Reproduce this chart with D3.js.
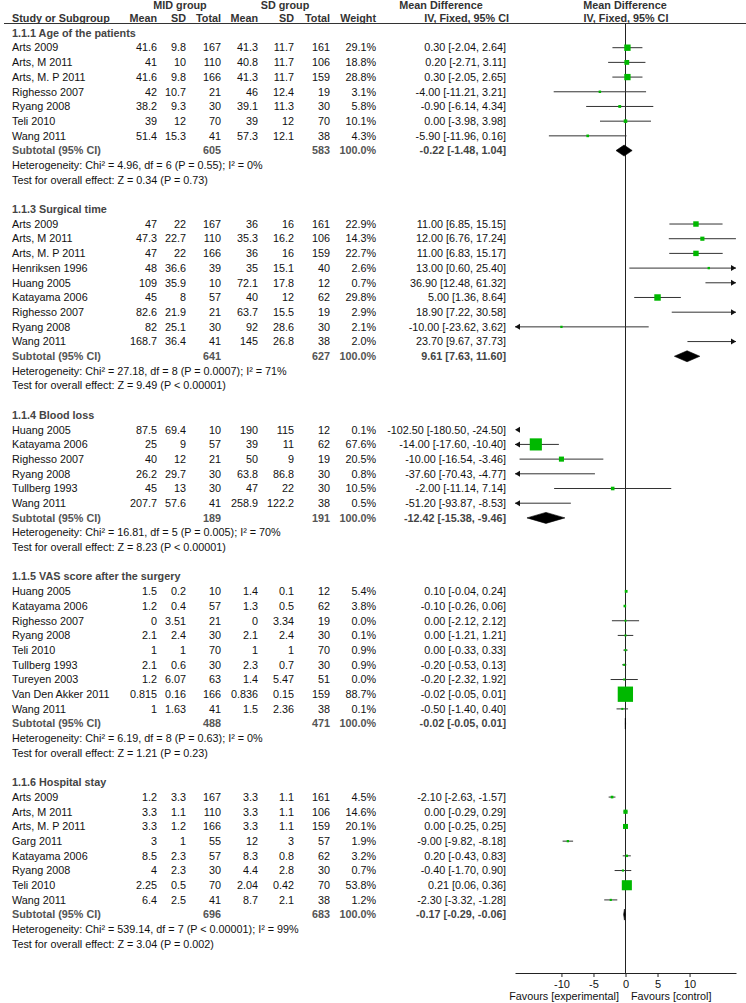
<!DOCTYPE html>
<html><head><meta charset="utf-8">
<script src="https://cdn.jsdelivr.net/npm/d3@7/dist/d3.min.js"></script>
<style>
body{margin:0;background:#fff}
svg{display:block}
text{font-family:"Liberation Sans",Arial,sans-serif;font-size:10.8px;fill:#111}
</style>
</head><body>
<svg id="chart" width="746" height="1003"></svg>
<script>
// ---------------- DATA ----------------
const sectionTitles = ["1.1.1 Age of the patients","1.1.3 Surgical time","1.1.4 Blood loss","1.1.5 VAS score after the surgery","1.1.6 Hospital stay"];
const groupHeaders = ["MID group","SD group"];
const columnHeaders = ["Mean","SD","Total","Mean","SD","Total","Weight"];
const studyNames = [
 "Arts 2009","Arts, M 2011","Arts, M. P 2011","Righesso 2007","Ryang 2008","Teli 2010","Wang 2011",
 "Arts 2009","Arts, M 2011","Arts, M. P 2011","Henriksen 1996","Huang 2005","Katayama 2006","Righesso 2007","Ryang 2008","Wang 2011",
 "Huang 2005","Katayama 2006","Righesso 2007","Ryang 2008","Tullberg 1993","Wang 2011",
 "Huang 2005","Katayama 2006","Righesso 2007","Ryang 2008","Teli 2010","Tullberg 1993","Tureyen 2003","Van Den Akker 2011","Wang 2011",
 "Arts 2009","Arts, M 2011","Arts, M. P 2011","Garg 2011","Katayama 2006","Ryang 2008","Teli 2010","Wang 2011"];
const studySection = [0,0,0,0,0,0,0, 1,1,1,1,1,1,1,1,1, 2,2,2,2,2,2, 3,3,3,3,3,3,3,3,3, 4,4,4,4,4,4,4,4];
const midMean = [41.6,41,41.6,42,38.2,39,51.4, 47,47.3,47,48,109,45,82.6,82,168.7, 87.5,25,40,26.2,45,207.7, 1.5,1.2,0,2.1,1,2.1,1.2,0.815,1, 1.2,3.3,3.3,3,8.5,4,2.25,6.4];
const midSD   = [9.8,10,9.8,10.7,9.3,12,15.3, 22,22.7,22,36.6,35.9,8,21.9,25.1,36.4, 69.4,9,12,29.7,13,57.6, 0.2,0.4,3.51,2.4,1,0.6,6.07,0.16,1.63, 3.3,1.1,1.2,1,2.3,2.3,0.5,2.5];
const midN    = [167,110,166,21,30,70,41, 167,110,166,39,10,57,21,30,41, 10,57,21,30,30,41, 10,57,21,30,70,30,63,166,41, 167,110,166,55,57,30,70,41];
const sdMean  = [41.3,40.8,41.3,46,39.1,39,57.3, 36,35.3,36,35,72.1,40,63.7,92,145, 190,39,50,63.8,47,258.9, 1.4,1.3,0,2.1,1,2.3,1.4,0.836,1.5, 3.3,3.3,3.3,12,8.3,4.4,2.04,8.7];
const sdSD    = [11.7,11.7,11.7,12.4,11.3,12,12.1, 16,16.2,16,15.1,17.8,12,15.5,28.6,26.8, 115,11,9,86.8,22,122.2, 0.1,0.5,3.34,2.4,1,0.7,5.47,0.15,2.36, 1.1,1.1,1.1,3,0.8,2.8,0.42,2.1];
const sdN     = [161,106,159,19,30,70,38, 161,106,159,40,12,62,19,30,38, 12,62,19,30,30,38, 12,62,19,30,70,30,51,159,38, 161,106,159,57,62,30,70,38];
const weights = [29.1,18.8,28.8,3.1,5.8,10.1,4.3, 22.9,14.3,22.7,2.6,0.7,29.8,2.9,2.1,2.0, 0.1,67.6,20.5,0.8,10.5,0.5, 5.4,3.8,0.0,0.1,0.9,0.9,0.0,88.7,0.1, 4.5,14.6,20.1,1.9,3.2,0.7,53.8,1.2];
const meanDiff = [0.30,0.20,0.30,-4.00,-0.90,0.00,-5.90, 11.00,12.00,11.00,13.00,36.90,5.00,18.90,-10.00,23.70, -102.50,-14.00,-10.00,-37.60,-2.00,-51.20, 0.10,-0.10,0.00,0.00,0.00,-0.20,-0.20,-0.02,-0.50, -2.10,0.00,0.00,-9.00,0.20,-0.40,0.21,-2.30];
const ciLow   = [-2.04,-2.71,-2.05,-11.21,-6.14,-3.98,-11.96, 6.85,6.76,6.83,0.60,12.48,1.36,7.22,-23.62,9.67, -180.50,-17.60,-16.54,-70.43,-11.14,-93.87, -0.04,-0.26,-2.12,-1.21,-0.33,-0.53,-2.32,-0.05,-1.40, -2.63,-0.29,-0.25,-9.82,-0.43,-1.70,0.06,-3.32];
const ciHigh  = [2.64,3.11,2.65,3.21,4.34,3.98,0.16, 15.15,17.24,15.17,25.40,61.32,8.64,30.58,3.62,37.73, -24.50,-10.40,-3.46,-4.77,7.14,-8.53, 0.24,0.06,2.12,1.21,0.33,0.13,1.92,0.01,0.40, -1.57,0.29,0.25,-8.18,0.83,0.90,0.36,-1.28];
const subMidN  = [605,641,189,488,696];
const subSdN   = [583,627,191,471,683];
const subMD    = [-0.22,9.61,-12.42,-0.02,-0.17];
const subLow   = [-1.48,7.63,-15.38,-0.05,-0.29];
const subHigh  = [1.04,11.60,-9.46,0.01,-0.06];
const heterogeneity = [
 "Heterogeneity: Chi² = 4.96, df = 6 (P = 0.55); I² = 0%",
 "Heterogeneity: Chi² = 27.18, df = 8 (P = 0.0007); I² = 71%",
 "Heterogeneity: Chi² = 16.81, df = 5 (P = 0.005); I² = 70%",
 "Heterogeneity: Chi² = 6.19, df = 8 (P = 0.63); I² = 0%",
 "Heterogeneity: Chi² = 539.14, df = 7 (P < 0.00001); I² = 99%"];
const overallEffect = [
 "Test for overall effect: Z = 0.34 (P = 0.73)",
 "Test for overall effect: Z = 9.49 (P < 0.00001)",
 "Test for overall effect: Z = 8.23 (P < 0.00001)",
 "Test for overall effect: Z = 1.21 (P = 0.23)",
 "Test for overall effect: Z = 3.04 (P = 0.002)"];
const axisTicks = [-10,-5,0,5,10];
const favourLabels = ["Favours [experimental]","Favours [control]"];

// ---------------- LAYOUT ----------------
const svg = d3.select("#chart");
const rows = [];
let r = 0;
sectionTitles.forEach((t, s) => {
  rows.push({type:"head", s, r:r++});
  studySection.forEach((sec, i) => { if (sec === s) rows.push({type:"study", i, r:r++}); });
  rows.push({type:"sub", s, r:r++});
  rows.push({type:"het", s, r:r++});
  rows.push({type:"test", s, r:r++});
  r++;
});
const lastRow = r - 2;
const y = d3.scaleLinear().domain([0, lastRow]).range([33, 944]);
const x = d3.scaleLinear().domain([-17.25, 17.25]).range([515, 736]);
const colX = [157,186,221,258,294,330,376];
const mdX = 506;
const axisY = 973;
const green = "#00b800";
const fmt2 = d => d.toFixed(2);
const mdText = (m,l,h) => `${fmt2(m)} [${fmt2(l)}, ${fmt2(h)}]`;

// header
const hdr = svg.append("g").attr("class","header");
function htxt(xp, yp, s, anchor) {
  return hdr.append("text").attr("x",xp).attr("y",yp).attr("dy","0.35em").attr("text-anchor",anchor).attr("font-weight","bold").style("fill","#333").text(s);
}
htxt(180, 5.5, groupHeaders[0], "middle");
htxt(285, 5.5, groupHeaders[1], "middle");
htxt(441, 5.5, "Mean Difference", "middle");
htxt(625, 5.5, "Mean Difference", "middle");
htxt(12, 18, "Study or Subgroup", "start");
columnHeaders.forEach((h,k) => htxt(colX[k], 18, h, "end"));
htxt(509, 18, "IV, Fixed, 95% CI", "end");
htxt(626, 18, "IV, Fixed, 95% CI", "middle");
svg.append("line").attr("x1",4).attr("x2",746).attr("y1",23.5).attr("y2",23.5).attr("stroke","#333").attr("stroke-width",1);

// zero line
svg.append("line").attr("x1",x(0)).attr("x2",x(0)).attr("y1",23.5).attr("y2",axisY).attr("stroke","#222").attr("stroke-width",1);

const g = svg.append("g");
function txt(xp, yp, s, anchor, opts = {}) {
  const t = g.append("text").attr("x",xp).attr("y",yp).attr("dy","0.35em").attr("text-anchor",anchor||"start").text(s);
  if (opts.bold) t.attr("font-weight","bold");
  if (opts.fill) t.style("fill",opts.fill);
  return t;
}
const [dMin, dMax] = x.domain();
function arrow(side, yp) {
  const tip = side < 0 ? x(dMin) : x(dMax);
  const b = tip - side*5;
  g.append("path").attr("d",`M${tip},${yp}L${b},${yp-3}L${b},${yp+3}Z`).attr("fill","#111");
}

rows.forEach(row => {
  const yp = y(row.r);
  if (row.type === "head") {
    txt(12, yp, sectionTitles[row.s], "start", {bold:true, fill:"#444"});
  } else if (row.type === "study") {
    const i = row.i;
    txt(12, yp, studyNames[i]);
    [midMean[i], midSD[i], midN[i], sdMean[i], sdSD[i], sdN[i]].forEach((v,k) => txt(colX[k], yp, String(v), "end"));
    txt(colX[6], yp, weights[i].toFixed(1) + "%", "end");
    txt(mdX, yp, mdText(meanDiff[i], ciLow[i], ciHigh[i]), "end");
    const lo = ciLow[i], hi = ciHigh[i];
    if (hi < dMin) { arrow(-1, yp); }
    else if (lo > dMax) { arrow(1, yp); }
    else {
      const a = Math.max(lo, dMin), b = Math.min(hi, dMax);
      g.append("line").attr("x1",x(a)).attr("x2",x(b)).attr("y1",yp).attr("y2",yp).attr("stroke","#333").attr("stroke-width",1);
      if (lo < dMin) arrow(-1, yp);
      if (hi > dMax) arrow(1, yp);
      if (meanDiff[i] >= dMin && meanDiff[i] <= dMax) {
        const sz = 2 + 0.15*weights[i];
        g.append("rect").attr("x",x(meanDiff[i]) - sz/2).attr("y",yp - sz/2).attr("width",sz).attr("height",sz).attr("fill",green);
      }
    }
  } else if (row.type === "sub") {
    const s = row.s;
    txt(12, yp, "Subtotal (95% CI)", "start", {bold:true, fill:"#555"});
    txt(colX[2], yp, String(subMidN[s]), "end", {bold:true, fill:"#555"});
    txt(colX[5], yp, String(subSdN[s]), "end", {bold:true, fill:"#555"});
    txt(colX[6], yp, "100.0%", "end", {bold:true, fill:"#555"});
    txt(mdX, yp, mdText(subMD[s], subLow[s], subHigh[s]), "end", {bold:true, fill:"#444"});
    const h = 5.5;
    const pts = [[x(subLow[s]), yp],[x(subMD[s]), yp-h],[x(subHigh[s]), yp],[x(subMD[s]), yp+h]];
    g.append("path").attr("d","M"+pts.map(p=>p.join(",")).join("L")+"Z").attr("fill","#000").attr("stroke","#000").attr("stroke-width",0.6);
  } else if (row.type === "het") {
    txt(12, yp, heterogeneity[row.s]);
  } else if (row.type === "test") {
    txt(12, yp, overallEffect[row.s]);
  }
});

// axis
const ax = svg.append("g").attr("transform",`translate(0,${axisY})`)
  .call(d3.axisBottom(x).tickValues(axisTicks).tickSize(4).tickSizeOuter(0).tickFormat(d => String(d)));
ax.select(".domain").attr("stroke","#222");
ax.selectAll(".tick line").attr("stroke","#222");
ax.selectAll(".tick text").style("font-family","'Liberation Sans',Arial,sans-serif").style("font-size","11px").style("fill","#111");
svg.append("text").attr("x",619).attr("y",996).attr("dy","0.35em").attr("text-anchor","end").text(favourLabels[0]);
svg.append("text").attr("x",631).attr("y",996).attr("dy","0.35em").attr("text-anchor","start").text(favourLabels[1]);
</script>
</body></html>
